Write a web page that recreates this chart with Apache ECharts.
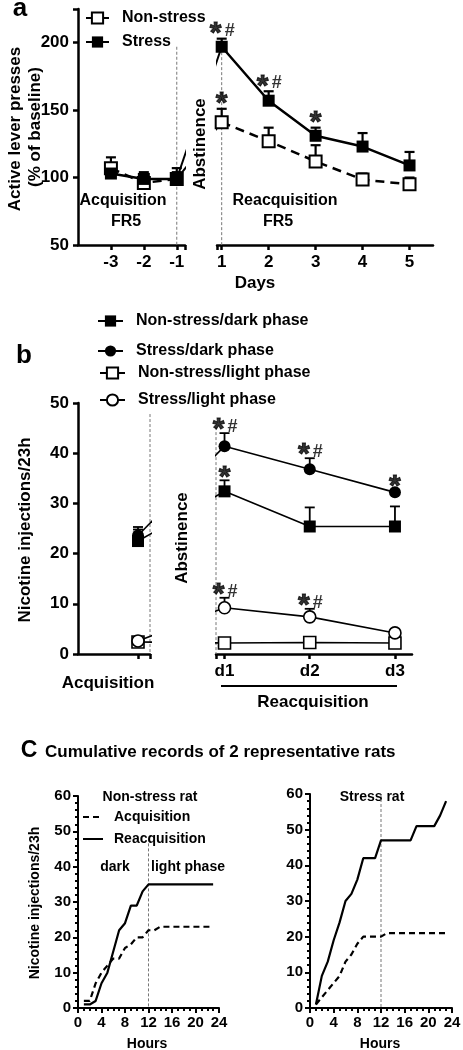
<!DOCTYPE html>
<html><head><meta charset="utf-8">
<script src="https://cdn.jsdelivr.net/npm/echarts@6/dist/echarts.min.js"></script>
<style>html,body{margin:0;padding:0;background:#fff}#c{width:463px;height:1050px}</style>
</head><body><div id="c"></div>
<script>
// ---------- Panel a data ----------
const aDaysPre = [-3, -2, -1];
const aDaysPost = [1, 2, 3, 4, 5];
const aYTicks = [50, 100, 150, 200];
const aNonStressPre = [107, 96, 99];
const aNonStressPreSem = [8, 4, 5];
const aStressPre = [103, 99, 99];
const aStressPreSem = [3, 5, 8];
const aNonStressPost = [141, 127, 112, 98.5, 95];
const aNonStressPostSem = [10, 10, 12, 4.5, 5];
const aStressPost = [197, 157, 131, 123, 109];
const aStressPostSem = [6, 7, 6, 10, 10];
const aNonStressMarks = ['*', '', '', '', ''];
const aStressMarks = ['*#', '*#', '*', '', ''];

// ---------- Panel b data ----------
const bGroups = ['Non-stress/dark phase', 'Stress/dark phase', 'Non-stress/light phase', 'Stress/light phase'];
const bAcqX = [1];
const bAcq = [22.5, 23.6, 2.4, 2.6];
const bAcqSem = [2.8, 1.2, 0.5, 0.5];
const bDays = [1, 2, 3];
const bDayLabels = ['d1', 'd2', 'd3'];
const bNsDark = [32.4, 25.4, 25.4];
const bNsDarkSem = [2.2, 3.8, 4.0];
const bSDark = [41.4, 36.8, 32.2];
const bSDarkSem = [2.6, 2.2, 0.5];
const bNsLight = [2.2, 2.3, 2.2];
const bNsLightSem = [0.3, 0.3, 0.3];
const bSLight = [9.2, 7.4, 4.2];
const bSLightSem = [2.0, 1.6, 0.5];
const bNsDarkMarks = ['*', '', ''];
const bSDarkMarks = ['*#', '*#', '*'];
const bSLightMarks = ['*#', '*#', ''];

// ---------- Panel c data ----------
const cHours = [1,2,3,4,5,6,7,8,9,10,11,12,13,14,15,16,17,18,19,20,21,22,23];
const cNsAcq =   [2,2,7,10,12,14,14,17,18,20,20,22,22,23,23,23,23,23,23,23,23,23,23];
const cNsReacq = [1,1,2,7,10,16,22,24,29,29,33,35,35,35,35,35,35,35,35,35,35,35,35];
const cSAcq =    [1,3,5,7,9,13,15,18,20,20,20,20,21,21,21,21,21,21,21,21,21,21,21];
const cSReacq =  [1,9,13,19,24,30,32,36,42,42,42,47,47,47,47,47,47,51,51,51,51,54,58];

// ---------- helpers ----------
const F = 'Liberation Sans, Arial, Helvetica, sans-serif';
const K = '#000';

function grid(l, t, w, h) { return {left:l, top:t, width:w, height:h, containLabel:false, outerBoundsMode:'none', show:false}; }
function axis(gi, min, max, o) {
  const a = {
    type:'value', gridIndex:gi, min:min, max:max,
    axisLine:{show:true, onZero:false, lineStyle:{color:K, width:o.lw}},
    axisTick:{show:true, length:o.tl || 5, lineStyle:{color:K, width:o.lw}},
    axisLabel:{show:o.labels !== false, color:K, fontFamily:F, fontWeight:'bold', fontSize:o.fs || 16, margin:o.m || 8},
    splitLine:{show:false}
  };
  if (o.ticks) a.axisTick.customValues = o.ticks;
  if (o.labelsAt) a.axisLabel.customValues = o.labelsAt;
  if (o.fmt) a.axisLabel.formatter = o.fmt;
  if (o.interval) a.interval = o.interval;
  if (o.minor) a.minorTick = {show:true, splitNumber:o.minor, length:3, lineStyle:{color:K, width:o.lw}};
  return a;
}
function hidden(gi, min, max) { return {type:'value', gridIndex:gi, min:min, max:max, show:false}; }
function zip(xs, ys) { return xs.map((x, i) => [x, ys[i]]); }

function errBars(xi, xs, means, sems, lw, cap) {
  return {type:'custom', xAxisIndex:xi, yAxisIndex:xi, z:2, silent:true, clip:false,
    data: xs.map((x, i) => [x, means[i], means[i] + sems[i]]),
    encode:{x:0, y:[1, 2]},
    renderItem: (p, api) => {
      const a = api.coord([api.value(0), api.value(1)]);
      const b = api.coord([api.value(0), api.value(2)]);
      return {type:'group', children:[
        {type:'line', shape:{x1:a[0], y1:a[1], x2:b[0], y2:b[1]}, style:{stroke:K, lineWidth:lw}},
        {type:'line', shape:{x1:b[0]-cap, y1:b[1], x2:b[0]+cap, y2:b[1]}, style:{stroke:K, lineWidth:lw}}
      ]};
    }};
}
function lineS(name, xi, xs, ys, st) {
  return {type:'line', name:name, xAxisIndex:xi, yAxisIndex:xi, data:zip(xs, ys), z:3, silent:true,
    symbol:st.symbol, symbolSize:st.size, showSymbol:st.symbol !== 'none', clip:false,
    lineStyle:{color:K, width:st.lw, type:st.dash || 'solid'},
    itemStyle: st.open ? {color:'#fff', borderColor:K, borderWidth:st.bw} : {color:K, borderColor:K, borderWidth:0},
    emphasis:{disabled:true}};
}
function stub(xi, p0, p1, lw) {
  return {type:'line', xAxisIndex:xi, yAxisIndex:xi, data:[p0, p1], symbol:'none', showSymbol:false,
    lineStyle:{color:K, width:lw}, clip:true, silent:true, z:3};
}
function guide(xi, x, y0, y1) {
  return {type:'line', xAxisIndex:xi, yAxisIndex:xi, data:[[x, y0], [x, y1]], symbol:'none', showSymbol:false,
    lineStyle:{color:'#777', width:1, type:[3, 2]}, clip:false, silent:true, z:1};
}
function marks(xi, xs, means, sems, ms, dy) {
  const star = [], hash = [];
  xs.forEach((x, i) => {
    const m = ms[i] || '';
    const top = means[i] + sems[i];
    if (m.indexOf('*') >= 0) star.push({value:[x, top], label:{offset:[m.indexOf('#') >= 0 ? -6 : 0, dy + 7]}});
    if (m.indexOf('#') >= 0) hash.push({value:[x, top], label:{offset:[8, dy + 4]}});
  });
  const base = {type:'scatter', xAxisIndex:xi, yAxisIndex:xi, symbol:'circle', symbolSize:1, silent:true, z:6,
    itemStyle:{color:'rgba(0,0,0,0)'}};
  return [
    Object.assign({}, base, {data:star, label:{show:true, position:'inside', formatter:'*', fontFamily:F, fontWeight:'bold', fontSize:30, color:K, textBorderColor:K, textBorderWidth:1}}),
    Object.assign({}, base, {data:hash, label:{show:true, position:'inside', formatter:'#', fontFamily:F, fontWeight:'bold', fontSize:18, color:K}})
  ];
}
function T(text, x, y, size, o) {
  o = o || {};
  return {type:'text', x:x, y:y, rotation:o.rot ? Math.PI / 2 : 0, silent:true,
    style:{text:text, fill:K, fontFamily:F, fontWeight:'bold', fontSize:size,
      align:o.align || 'center', verticalAlign:'middle', textAlign:o.align || 'center', textVerticalAlign:'middle'}};
}

// bridge positions of the connecting lines across the axis gaps (in each segment's own units)
const aBridgeL = 0.364, aBridgeR = 0.043;
const bBridgeL = 2.45, bBridgeR = -0.02;

const styNS = {symbol:'rect', size:12, lw:2.5, dash:[9, 6], open:true, bw:2};
const styS = {symbol:'rect', size:12, lw:2.5};
const bSty = [
  {symbol:'rect', size:12, lw:1.6},
  {symbol:'circle', size:12, lw:1.6},
  {symbol:'rect', size:12, lw:1.6, open:true, bw:1.6},
  {symbol:'circle', size:12, lw:1.6, open:true, bw:1.6}
];
const bRight = [bNsDark, bSDark, bNsLight, bSLight];
const bRightSem = [bNsDarkSem, bSDarkSem, bNsLightSem, bSLightSem];

const series = [];
// panel a
series.push(guide(0, -1, 197, 50), guide(1, 1, 193, 50));
series.push(errBars(0, aDaysPre, aNonStressPre, aNonStressPreSem, 2.2, 5));
series.push(errBars(0, aDaysPre, aStressPre, aStressPreSem, 2.2, 5));
series.push(errBars(1, aDaysPost, aNonStressPost, aNonStressPostSem, 2.2, 5));
series.push(errBars(1, aDaysPost, aStressPost, aStressPostSem, 2.2, 5));
series.push(lineS('Non-stress', 0, aDaysPre, aNonStressPre, styNS));
series.push(lineS('Stress', 0, aDaysPre, aStressPre, styS));
series.push(lineS('Non-stress', 1, aDaysPost, aNonStressPost, styNS));
series.push(lineS('Stress', 1, aDaysPost, aStressPost, styS));
series.push(stub(0, [-1, aNonStressPre[2]], [aBridgeL, aNonStressPost[0]], 2));
series.push(stub(0, [-1, aStressPre[2]], [aBridgeL, aStressPost[0]], 2));
series.push(stub(1, [aBridgeR, aNonStressPre[2]], [1, aNonStressPost[0]], 2));
series.push(stub(1, [aBridgeR, aStressPre[2]], [1, aStressPost[0]], 2));
marks(1, aDaysPost, aNonStressPost, aNonStressPostSem, aNonStressMarks, -12).forEach(s => series.push(s));
marks(1, aDaysPost, aStressPost, aStressPostSem, aStressMarks, -12).forEach(s => series.push(s));

// panel b
series.push(guide(2, 1.2, 47.8, 0), guide(3, 0.9, 45.2, 0));
bGroups.forEach((g, k) => {
  series.push(errBars(3, bDays, bRight[k], bRightSem[k], 1.8, 5));
  series.push(lineS(g, 3, bDays, bRight[k], bSty[k]));
});
bGroups.forEach((g, k) => {
  series.push(errBars(2, bAcqX, [bAcq[k]], [bAcqSem[k]], 1.8, 5));
  series.push(lineS(g, 2, bAcqX, [bAcq[k]], bSty[k]));
  series.push(stub(2, [bAcqX[0], bAcq[k]], [bBridgeL, bRight[k][0]], 1.6));
  series.push(stub(3, [bBridgeR, bAcq[k]], [bDays[0], bRight[k][0]], 1.6));
});
marks(3, bDays, bNsDark, bNsDarkSem, bNsDarkMarks, -10).forEach(s => series.push(s));
marks(3, bDays, bSDark, bSDarkSem, bSDarkMarks, -10).forEach(s => series.push(s));
marks(3, bDays, bSLight, bSLightSem, bSLightMarks, -10).forEach(s => series.push(s));

// panel c
const cAcqSty = {symbol:'none', lw:2.2, dash:[6, 4]};
const cReSty = {symbol:'none', lw:2.2};
series.push(guide(4, 12, 48, 0), guide(5, 12, 60, 0));
series.push(lineS('Acquisition', 4, cHours, cNsAcq, cAcqSty));
series.push(lineS('Reacquisition', 4, cHours, cNsReacq, cReSty));
series.push(lineS('Acquisition', 5, cHours, cSAcq, cAcqSty));
series.push(lineS('Reacquisition', 5, cHours, cSReacq, cReSty));

function legend(names, left, top, o) {
  const l = {data:names, left:left, top:top, orient:'vertical', padding:0, selectedMode:false,
    itemWidth:o.w, itemHeight:o.h, itemGap:o.gap || 6,
    textStyle:{fontFamily:F, fontWeight:'bold', fontSize:o.fs, color:K, padding:[0, 0, 0, o.pad || 0]}};
  if (o.solid) l.lineStyle = {type:'solid'};
  if (o.noSymbol) l.itemStyle = {color:'rgba(0,0,0,0)', borderColor:'rgba(0,0,0,0)', borderWidth:0, opacity:0};
  return l;
}

const option = {
  animation:false,
  backgroundColor:'#fff',
  grid:[grid(78, 9, 107, 236), grid(217, 9, 216, 236), grid(78, 403, 72, 251), grid(216, 403, 196, 251), grid(78, 796, 141, 212), grid(310, 794, 142, 214)],
  xAxis:[
    axis(0, -4, -0.75, {lw:2.5, ticks:[-3, -2, -1, -0.75], labelsAt:aDaysPre, fs:17, m:9}),
    axis(1, 0.9, 5.5, {lw:2.5, ticks:[0.9, 1, 2, 3, 4, 5], labelsAt:aDaysPost, fs:17, m:9}),
    axis(2, 0, 1.2, {lw:2.5, ticks:[1, 1.2], labels:false}),
    axis(3, 0.9, 3.2, {lw:2.5, ticks:[0.9, 1, 2, 3], labelsAt:bDays, fmt:v => bDayLabels[bDays.indexOf(v)], fs:17, m:9}),
    axis(4, 0, 24, {lw:2, interval:4, minor:4, fs:15, m:7}),
    axis(5, 0, 24, {lw:2, interval:4, minor:4, fs:15, m:7})
  ],
  yAxis:[
    axis(0, 50, 225, {lw:2.5, ticks:[50, 100, 150, 200, 225], labelsAt:aYTicks, fs:17, m:9}),
    hidden(1, 50, 225),
    axis(2, 0, 50, {lw:2.5, interval:10, fs:17, m:9}),
    hidden(3, 0, 50),
    axis(4, 0, 60, {lw:2, interval:10, minor:5, fs:15, m:7}),
    axis(5, 0, 60, {lw:2, interval:10, minor:5, fs:15, m:7})
  ],
  legend:[
    legend(['Non-stress', 'Stress'], 85, 10, {w:23, h:14, gap:8, fs:16, pad:8, solid:true}),
    legend([bGroups[0]], 97, 313, {w:25, h:14, fs:16, pad:8}),
    legend([bGroups[1]], 97, 343, {w:25, h:14, fs:16, pad:8}),
    legend([bGroups[2]], 99, 365, {w:25, h:14, fs:16, pad:8}),
    legend([bGroups[3]], 99, 392, {w:25, h:14, fs:16, pad:8}),
    legend(['Acquisition', 'Reacquisition'], 82, 810, {w:20, h:10, gap:8, fs:14, pad:6, noSymbol:true})
  ],
  graphic:[
    T('a', 20, 9, 26),
    T('Acquisition', 123, 201, 16), T('FR5', 126, 222, 16),
    T('Reacquisition', 285, 201, 16), T('FR5', 278, 222, 16),
    T('Abstinence', 200, 144, 17, {rot:true}),
    T('Days', 255, 283, 17),
    T('Active lever presses', 15, 129, 17, {rot:true}),
    T('(% of baseline)', 35, 127, 17, {rot:true}),
    T('b', 24, 356, 26),
    T('Nicotine injections/23h', 25, 530, 17, {rot:true}),
    T('Abstinence', 182, 538, 17, {rot:true}),
    T('Acquisition', 108, 683, 17),
    {type:'line', shape:{x1:221, y1:686, x2:397, y2:686}, style:{stroke:K, lineWidth:2}, silent:true},
    T('Reacquisition', 313, 702, 17),
    T('C', 29, 751, 23),
    T('Cumulative records of 2 representative rats', 45, 752, 17, {align:'left'}),
    T('Nicotine injections/23h', 35, 903, 14, {rot:true}),
    T('Non-stress rat', 150, 797, 14),
    T('dark', 115, 867, 14), T('light phase', 188, 867, 14),
    T('Stress rat', 372, 797, 14),
    T('Hours', 147, 1044, 14), T('Hours', 380, 1044, 14)
  ],
  series:series
};
const chart = echarts.init(document.getElementById('c'));
chart.setOption(option);
</script>
</body></html>
